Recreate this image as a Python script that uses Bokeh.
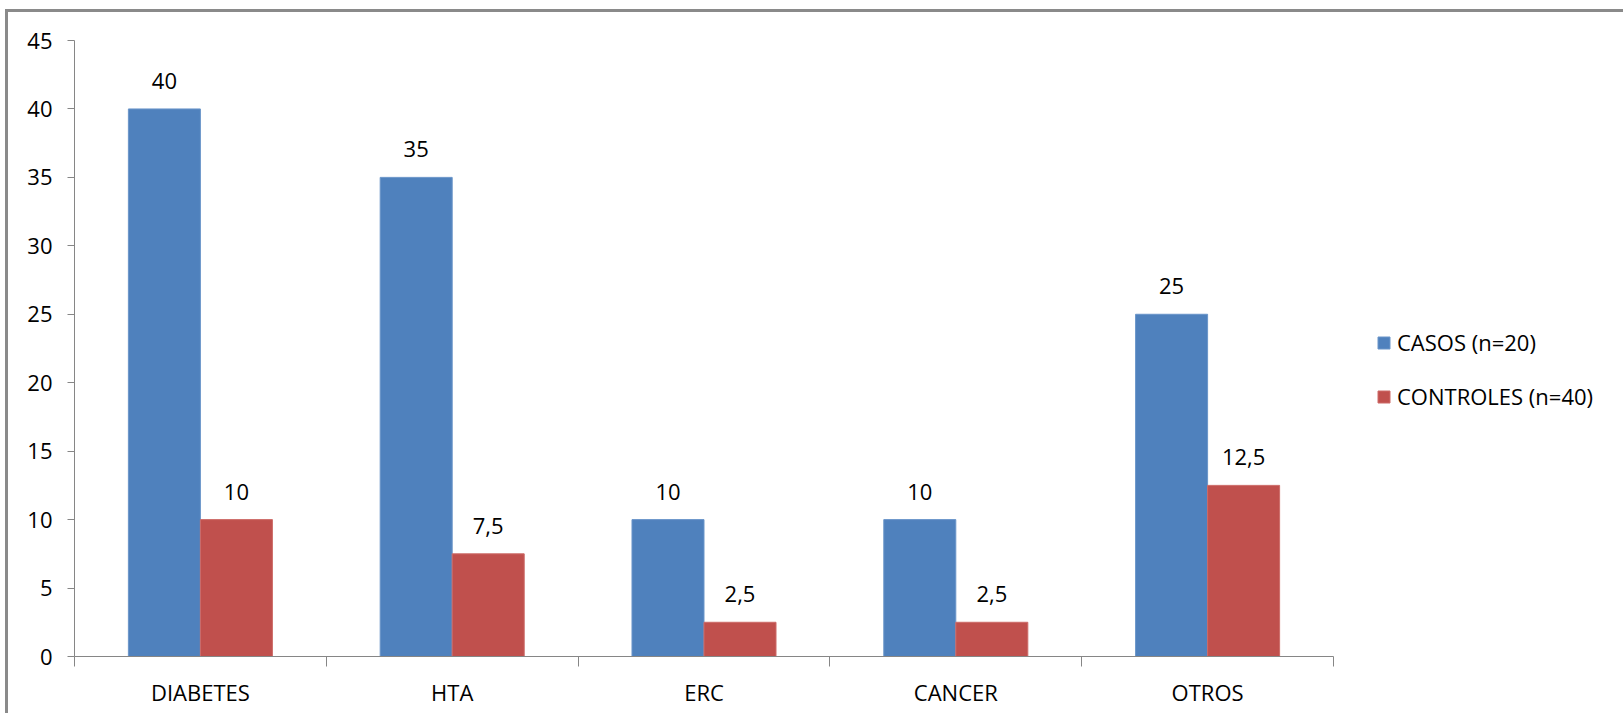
from bokeh.plotting import figure
from bokeh.models import FixedTicker, Legend, LegendItem, Range1d
from bokeh.core.properties import value
from bokeh.embed import file_html
from bokeh.resources import INLINE

# Data
categories = ["DIABETES", "HTA", "ERC", "CANCER", "OTROS"]
casos = [40, 35, 10, 10, 25]
controles = [10, 7.5, 2.5, 2.5, 12.5]
series_names = ["CASOS (n=20)", "CONTROLES (n=40)"]
y_ticks = [0, 5, 10, 15, 20, 25, 30, 35, 40, 45]

FONT = "Open Sans"
FONT_SIZE = "22px"
BLUE = "#4F81BD"
RED = "#C0504D"
AXIS_GREY = "#868686"
BAR_W = 0.286


def fmt(v):
    return f"{v:g}".replace(".", ",")


n = len(categories)
centers = [i + 0.5 for i in range(n)]
x_casos = [c - BAR_W / 2 for c in centers]
x_controles = [c + BAR_W / 2 for c in centers]

p = figure(
    frame_width=1259, frame_height=616,
    x_range=Range1d(0, n), y_range=Range1d(0, 45),
    output_backend="svg", toolbar_location=None,
    min_border_left=66, min_border_right=0,
    min_border_top=28, min_border_bottom=60,
)
# chart-area frame: grey rule along the top and left edges
p.margin = (12, 0, 0, 8)
p.styles = {
    "box-shadow": "-3px -3px 0 0 #8a8a8a, 4px 0 0 0 #ffffff",
    "overflow": "hidden",
}
p.outline_line_color = None
p.grid.visible = False
p.background_fill_color = "white"
p.border_fill_color = "white"

r_casos = p.vbar(x=x_casos, top=casos, width=BAR_W, bottom=0,
                 fill_color=BLUE, line_color="#6a95c9", line_width=1)
r_controles = p.vbar(x=x_controles, top=controles, width=BAR_W, bottom=0,
                     fill_color=RED, line_color="#cd6b68", line_width=1)

# Value labels above bars
for xs, vals in ((x_casos, casos), (x_controles, controles)):
    p.text(x=xs, y=vals, text=[fmt(v) for v in vals],
           text_align="center", text_baseline="middle", y_offset=-28,
           text_font=value(FONT), text_font_size=FONT_SIZE, text_color="black")

# X axis: category names centered, tick marks between categories
xa = p.xaxis[0]
xa.ticker = FixedTicker(ticks=centers, minor_ticks=list(range(n + 1)))
xa.major_label_overrides = {c: name for c, name in zip(centers, categories)}
xa.major_tick_line_color = None
xa.major_tick_in = 0
xa.major_tick_out = 0
xa.minor_tick_in = 0
xa.minor_tick_out = 10
xa.minor_tick_line_color = AXIS_GREY
xa.axis_line_color = AXIS_GREY
xa.major_label_standoff = 10
xa.major_label_text_font = FONT
xa.major_label_text_font_size = FONT_SIZE
xa.major_label_text_color = "black"

# Y axis
ya = p.yaxis[0]
ya.ticker = FixedTicker(ticks=y_ticks, minor_ticks=[])
ya.major_tick_in = 0
ya.major_tick_out = 7
ya.major_tick_line_color = AXIS_GREY
ya.minor_tick_line_color = None
ya.axis_line_color = AXIS_GREY
ya.major_label_standoff = 15
ya.major_label_text_font = FONT
ya.major_label_text_font_size = FONT_SIZE
ya.major_label_text_color = "black"

legend = Legend(
    items=[LegendItem(label=series_names[0], renderers=[r_casos]),
           LegendItem(label=series_names[1], renderers=[r_controles])],
    location=(43, 245),
    orientation="vertical",
    padding=0, margin=0, spacing=24,
    glyph_width=15, glyph_height=15, label_standoff=6,
    label_height=26, label_width=226,
    label_text_font=FONT, label_text_font_size=FONT_SIZE,
    label_text_color="black",
    border_line_color=None, background_fill_alpha=0,
)
p.add_layout(legend, "right")

open("out.html", "w").write(file_html(p, INLINE))
